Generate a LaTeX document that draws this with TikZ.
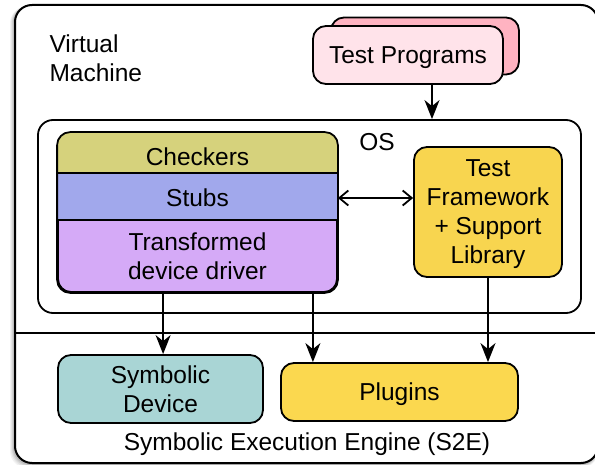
\documentclass[tikz,border=0pt]{standalone}
\usepackage{fontspec}
\setmainfont{Liberation Sans}
\usepackage{tikz}
\usetikzlibrary{arrows.meta, positioning, calc}
\usepackage{xcolor}
\definecolor{tpfront}{HTML}{FFE3EA}
\definecolor{tpback}{HTML}{FFB3C1}
\definecolor{chkolive}{HTML}{D6D27C}
\definecolor{stubblue}{HTML}{A1A8EC}
\definecolor{drvpurple}{HTML}{D5AAF7}
\definecolor{tfgold}{HTML}{F8D54F}
\definecolor{plugold}{HTML}{FBD84F}
\definecolor{symteal}{HTML}{A9D5D5}

\begin{document}
\begin{tikzpicture}[x=1pt, y=-1pt, font=\fontsize{24.5}{29}\selectfont,
  box/.style={draw, line width=1.8pt, rounded corners=13pt, inner sep=0pt, align=center},
  flow/.style={-{Stealth[length=19pt, width=15pt, inset=6pt]}, line width=1.8pt},
  dbl/.style={{Straight Barb[length=9pt, width=15pt]}-{Straight Barb[length=9pt, width=15pt]}, line width=1.8pt}]
  \useasboundingbox (0,0) rectangle (595,465);
  % shadow of the machine
  \foreach \d/\o in {5/0.05, 4/0.06, 3/0.08, 2/0.10} {
    \fill[black, opacity=\o, rounded corners=17pt] (15-\d,5+0.3*\d) rectangle (598,463+\d);
  }
  % machine
  \draw[line width=2pt, fill=white, rounded corners=17pt] (15,5) rectangle (598,463);
  \draw[line width=1.8pt] (15,333) -- (598,333);
  \node[align=left, anchor=west] (vm) at (46,58) {Virtual\\Machine};
  % test programs
  \node[box, fill=tpback, minimum width=188pt, minimum height=57pt] (tpb) at (425,46) {};
  \node[box, fill=tpfront, minimum width=190pt, minimum height=58pt] (tp) at (408,55) {};
  \node (tptext) at (408,58) {Test Programs};
  % os
  \node[box, rounded corners=15pt, minimum width=543pt, minimum height=193pt] (os) at (309.5,216.5) {};
  \node (oslabel) at (377,142) {OS};
  % driver stack
  \node[box, fill=drvpurple, minimum width=279pt, minimum height=159pt] (stack) at (197.5,212.5) {};
  \begin{scope}
    \clip[rounded corners=13pt] (stack.south west) rectangle (stack.north east);
    \fill[chkolive] (stack.north west) rectangle (337,173);
    \fill[stubblue] (58,173) rectangle (337,220);
  \end{scope}
  \draw[line width=1.8pt] (58,173) -- (337,173) (58,220) -- (337,220);
  \draw[line width=1.8pt, rounded corners=13pt] (stack.south west) rectangle (stack.north east);
  \node (chk) at (197.5,157) {Checkers};
  \node (stubs) at (197.5,198) {Stubs};
  \node[align=center] (drv) at (197.5,256) {Transformed\\device driver};
  % test framework
  \node[box, fill=tfgold, minimum width=148pt, minimum height=130pt] (tf) at (488,212) {};
  \node[align=center] (tftext) at (488,214) {Test\\Framework\\+ Support\\Library};
  % s2e
  \node[box, fill=symteal, minimum width=205pt, minimum height=68pt] (sd) at (160.5,389) {Symbolic\\Device};
  \node[box, fill=plugold, minimum width=237pt, minimum height=58pt] (plug) at (399.5,392) {};
  \node (plugtext) at (399.5,394) {Plugins};
  \node (s2e) at (307,444) {Symbolic Execution Engine (S2E)};
  % arrows
  \coordinate (tpout) at ($(tp.south)+(24,0)$);
  \draw[flow] (tpout) -- (tpout |- os.north);
  \draw[dbl] (stack.east |- stubs) -- (tf.west |- stubs);
  \coordinate (drvout) at ($(stack.south west)+(106,0)$);
  \draw[flow] (drvout) -- (drvout |- sd.north);
  \coordinate (plugin) at ($(stack.south east)+(-25,0)$);
  \draw[flow] (plugin) -- (plugin |- plug.north);
  \draw[flow] (tf.south) -- (tf.south |- plug.north);
\end{tikzpicture}
\end{document}
